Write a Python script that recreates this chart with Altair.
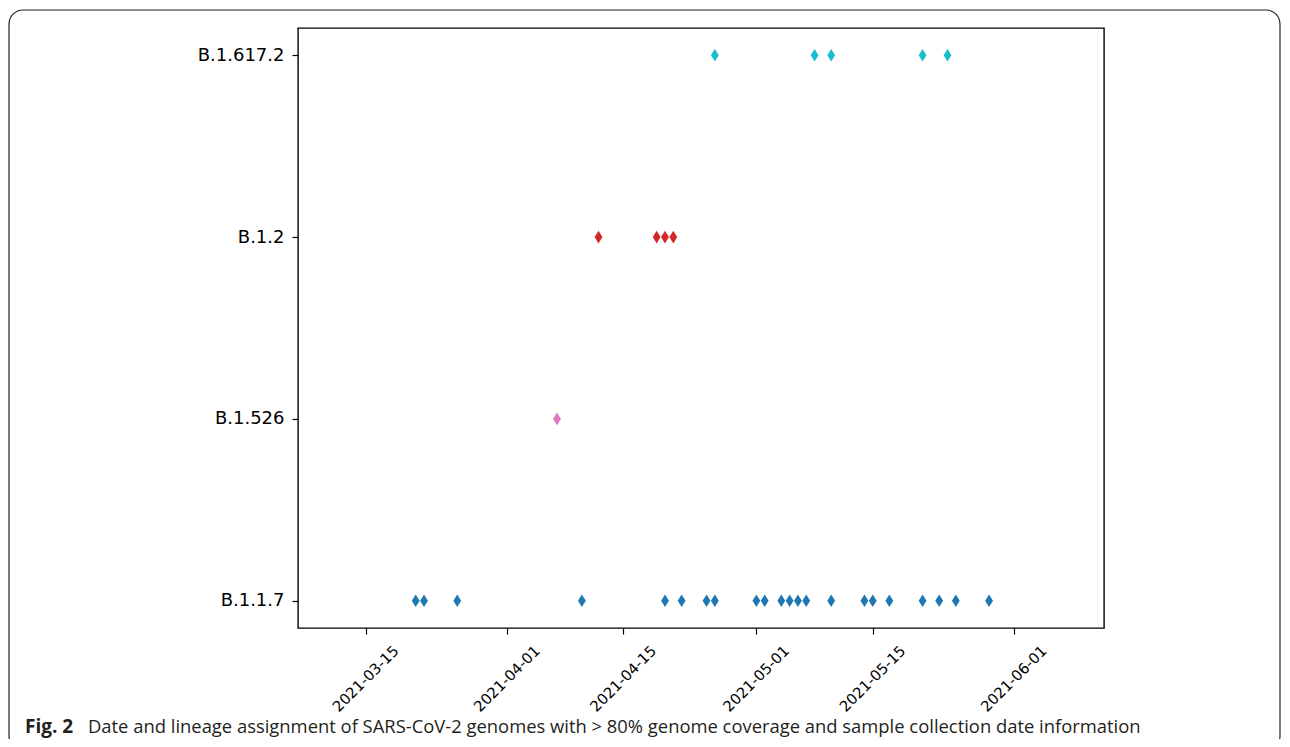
import altair as alt
import pandas as pd

# Lineage categories, top to bottom
lineages = ["B.1.617.2", "B.1.2", "B.1.526", "B.1.1.7"]
colors = ["#17becf", "#d62728", "#e377c2", "#1f77b4"]

# Sample collection dates per lineage
dates_b117 = ["2021-03-21", "2021-03-22", "2021-03-26", "2021-04-10", "2021-04-20",
              "2021-04-22", "2021-04-25", "2021-04-26", "2021-05-01", "2021-05-02",
              "2021-05-04", "2021-05-05", "2021-05-06", "2021-05-07", "2021-05-10",
              "2021-05-14", "2021-05-15", "2021-05-17", "2021-05-21", "2021-05-23",
              "2021-05-25", "2021-05-29"]
dates_b1526 = ["2021-04-07"]
dates_b12 = ["2021-04-12", "2021-04-19", "2021-04-20", "2021-04-21"]
dates_b16172 = ["2021-04-26", "2021-05-08", "2021-05-10", "2021-05-21", "2021-05-24"]

tick_dates = [(2021, 3, 15), (2021, 4, 1), (2021, 4, 15), (2021, 5, 1), (2021, 5, 15), (2021, 6, 1)]

caption_bold = "Fig. 2"
caption_text = ("Date and lineage assignment of SARS-CoV-2 genomes with > 80% genome "
                "coverage and sample collection date information")

rows = []
for lin, ds in [("B.1.1.7", dates_b117), ("B.1.526", dates_b1526),
                ("B.1.2", dates_b12), ("B.1.617.2", dates_b16172)]:
    for d in ds:
        rows.append({"date": d, "lineage": lin})
df = pd.DataFrame(rows)

diamond = "M0,-1L0.62,0L0,1L-0.62,0Z"

x_axis = alt.Axis(
    values=[alt.DateTime(year=y, month=m, date=d, utc=True) for y, m, d in tick_dates],
    format="%Y-%m-%d", labelAngle=-45, labelAlign="center", labelBaseline="middle",
    labelPadding=45, labelFont="DejaVu Sans", labelFontSize=14.8, labelColor="black",
    tickColor="black", tickSize=6, tickWidth=1.2, domain=False, grid=False, title=None,
)
y_axis = alt.Axis(
    labelFont="DejaVu Sans", labelFontSize=18, labelColor="black", labelPadding=8,
    tickColor="black", tickSize=6, tickWidth=1.2, domain=False, grid=False, title=None,
)

points = alt.Chart(df).mark_point(shape=diamond, filled=True, opacity=1, size=160).encode(
    x=alt.X("date:T", axis=x_axis,
            scale=alt.Scale(type="utc",
                            domain=[alt.DateTime(year=2021, month=3, date=6, hours=20, utc=True),
                                    alt.DateTime(year=2021, month=6, date=11, hours=20, utc=True)])),
    y=alt.Y("lineage:N", sort=lineages, axis=y_axis, scale=alt.Scale(padding=0.15)),
    color=alt.Color("lineage:N", scale=alt.Scale(domain=lineages, range=colors), legend=None),
)

one = pd.DataFrame({"t": [caption_text], "b": [caption_bold]})

frame = alt.Chart(one).mark_rect(
    fillOpacity=0, stroke="#222222", strokeWidth=1.2, cornerRadius=14
).encode(
    x=alt.value(-289), x2=alt.value(982), y=alt.value(-18), y2=alt.value(722)
)

cap_bold = alt.Chart(one).mark_text(
    align="left", baseline="alphabetic", font="Open Sans", fontSize=19,
    fontWeight="bold", color="#231f20"
).encode(x=alt.value(-273), y=alt.value(705), text="b:N")

cap_text = alt.Chart(one).mark_text(
    align="left", baseline="alphabetic", font="Open Sans", fontSize=18.4,
    color="#231f20"
).encode(x=alt.value(-210), y=alt.value(705), text="t:N")

chart = alt.layer(frame, points, cap_bold, cap_text).properties(
    width=806, height=600,
    background="white",
    autosize=alt.AutoSizeParams(type="none"),
    padding={"left": 290, "top": 20, "right": 178, "bottom": 111},
).configure_view(stroke="black", strokeWidth=1.4)

chart.save("out.html", embed_options={"renderer": "svg", "actions": False})
